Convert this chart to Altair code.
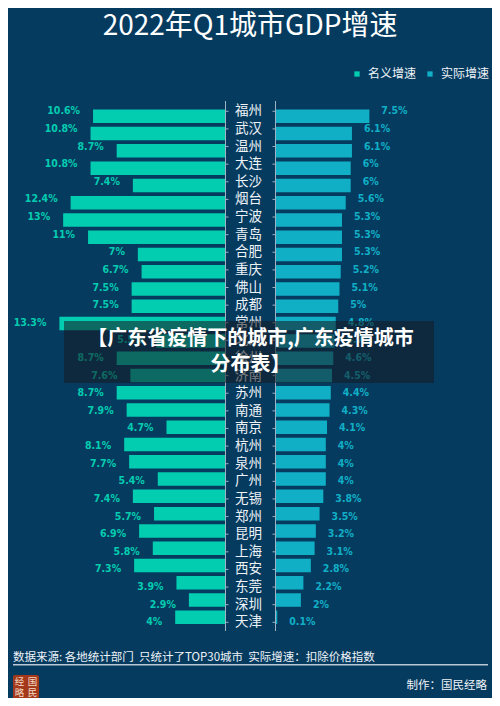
import altair as alt
import pandas as pd

# ---------------- data ----------------
cities = ["福州", "武汉", "温州", "大连", "长沙", "烟台", "宁波", "青岛", "合肥", "重庆",
          "佛山", "成都", "常州", "北京", "徐州", "济南", "苏州", "南通", "南京", "杭州",
          "泉州", "广州", "无锡", "郑州", "昆明", "上海", "西安", "东莞", "深圳", "天津"]
nominal = [10.6, 10.8, 8.7, 10.8, 7.4, 12.4, 13, 11, 7, 6.7,
           7.5, 7.5, 13.3, 5.5, 8.7, 7.6, 8.7, 7.9, 4.7, 8.1,
           7.7, 5.4, 7.4, 5.7, 6.9, 5.8, 7.3, 3.9, 2.9, 4]
real = [7.5, 6.1, 6.1, 6, 6, 5.6, 5.3, 5.3, 5.3, 5.2,
        5.1, 5, 4.8, 4.7, 4.6, 4.5, 4.4, 4.3, 4.1, 4,
        4, 4, 3.8, 3.5, 3.2, 3.1, 2.8, 2.2, 2, 0.1]
series_names = ["名义增速", "实际增速"]
title_text = ["2022年Q1城市GDP增速"]
footnote_text = ["数据来源: 各地统计部门\u00a0\u00a0只统计了TOP30城市\u00a0\u00a0实际增速：扣除价格指数"]
credit_text = ["制作：国民经略"]
logo_chars = ["经", "国", "略", "民"]
overlay_lines = ["【广东省疫情下的城市,广东疫情城市", "分布表】"]

# ---------------- styles ----------------
BG = "#063b60"
C_NOM = "#02cdb1"
C_REAL = "#10afc6"
WHITE = "#eef3f7"
FONT = "Noto Sans CJK SC"
NUMFONT = "DejaVu Sans Condensed"
W, H = 484, 690

df = pd.DataFrame({"city": cities, "nom": nominal, "real": real})
df["idx"] = range(len(cities))

yscale = alt.Scale(domain=[0, len(cities) - 1], range=[103.3, 614.3])
Y = alt.Y("idx:Q", scale=yscale, axis=None)
xl = alt.Scale(domain=[0, 17.43], range=[217, 0])
xr = alt.Scale(domain=[0, 17.35], range=[268, 484])
pix = alt.Scale(domain=[0, H], range=[0, H])
pixx = alt.Scale(domain=[0, W], range=[0, W])
color = alt.Color(
    "series:N",
    scale=alt.Scale(domain=series_names, range=[C_NOM, C_REAL]),
    legend=alt.Legend(
        orient="none", legendX=343, legendY=60, direction="horizontal", title=None,
        symbolType="square", symbolSize=28, symbolStrokeWidth=0, labelFontSize=12,
        labelFont=FONT, labelColor=WHITE, columnPadding=7, labelOffset=5, padding=0,
    ),
)

base = alt.Chart(df)

left_bars = base.transform_calculate(series="'名义增速'").mark_bar(
    orient="horizontal", height=13.5
).encode(
    x=alt.X("nom:Q", scale=xl, axis=None), x2=alt.datum(0), y=Y, color=color
)
left_text = base.transform_calculate(lab="datum.nom + '%'").mark_text(
    align="right", baseline="middle", dx=-13, font=NUMFONT, fontWeight="bold",
    fontSize=10.5, color=C_NOM
).encode(x=alt.X("nom:Q", scale=xl, axis=None), y=Y, text="lab:N")

right_bars = base.transform_calculate(series="'实际增速'").mark_bar(
    orient="horizontal", height=13.5
).encode(
    x=alt.X("real:Q", scale=xr, axis=None), x2=alt.datum(0), y=Y, color=color
)
right_text = base.transform_calculate(lab="datum.real + '%'").mark_text(
    align="left", baseline="middle", dx=12, font=NUMFONT, fontWeight="bold",
    fontSize=10.5, color=C_REAL
).encode(x=alt.X("real:Q", scale=xr, axis=None), y=Y, text="lab:N")

city_text = base.mark_text(
    align="center", baseline="middle", font=FONT, fontSize=13.5, color=WHITE
).encode(x=alt.value(240.5), y=Y, text="city:N")

axis_l = base.mark_rule(color="#9db2c2", strokeWidth=1).encode(
    x=alt.value(217.5), y=alt.value(93.7), y2=alt.value(622.5))
axis_r = base.mark_rule(color="#9db2c2", strokeWidth=1).encode(
    x=alt.value(267.5), y=alt.value(93.7), y2=alt.value(622.5))
ticks_l = base.mark_rule(color="#9db2c2", strokeWidth=1).encode(
    x=alt.value(217.5), x2=alt.value(220.5), y=Y)
ticks_r = base.mark_rule(color="#9db2c2", strokeWidth=1).encode(
    x=alt.value(264.5), x2=alt.value(267.5), y=Y)

title = alt.Chart(pd.DataFrame({"t": title_text})).mark_text(
    align="center", baseline="middle", font=FONT, fontSize=28, color="#ffffff"
).encode(x=alt.value(242), y=alt.value(19), text="t:N")

foot = alt.Chart(pd.DataFrame({"t": footnote_text})).mark_text(
    align="left", baseline="middle", font=FONT, fontSize=11.5, color=WHITE
).encode(x=alt.value(5), y=alt.value(650), text="t:N")
foot_line = alt.Chart(pd.DataFrame({"t": footnote_text})).mark_rule(
    color="#b9c8d4", strokeWidth=1.5
).encode(x=alt.value(5), x2=alt.value(480), y=alt.value(656.7))
credit = alt.Chart(pd.DataFrame({"t": credit_text})).mark_text(
    align="right", baseline="middle", font=FONT, fontSize=11.5, color=WHITE
).encode(x=alt.value(479), y=alt.value(678), text="t:N")

logo_box = alt.Chart(pd.DataFrame({"t": ["logo"]})).mark_rect(
    color="#a3381b", cornerRadius=2
).encode(x=alt.value(5), x2=alt.value(31), y=alt.value(667), y2=alt.value(691))
logo_df = pd.DataFrame({
    "c": logo_chars,
    "px": [11.5, 24.5, 11.5, 24.5],
    "py": [673.5, 673.5, 684.5, 684.5],
})
logo_txt = alt.Chart(logo_df).mark_text(
    align="center", baseline="middle", font=FONT, fontSize=9.5, color="#f3dcc6"
).encode(
    x=alt.X("px:Q", scale=pixx, axis=None),
    y=alt.Y("py:Q", scale=pix, axis=None),
    text="c:N",
)

overlay_box = alt.Chart(pd.DataFrame({"t": ["box"]})).mark_rect(
    color="#151a20", opacity=0.55
).encode(x=alt.value(56), x2=alt.value(426), y=alt.value(313), y2=alt.value(375))
ov_df = pd.DataFrame({"t": overlay_lines, "py": [331, 357]})
overlay_txt = alt.Chart(ov_df).mark_text(
    align="center", baseline="middle", font=FONT, fontSize=20, fontWeight="bold",
    color="#ffffff"
).encode(
    x=alt.value(242.5),
    y=alt.Y("py:Q", scale=pix, axis=None),
    text="t:N",
)

chart = alt.layer(
    title, axis_l, axis_r, ticks_l, ticks_r,
    left_bars, right_bars, left_text, right_text, city_text,
    foot, foot_line, credit, logo_box, logo_txt,
    overlay_box, overlay_txt,
).resolve_scale(x="independent", y="independent").properties(
    width=W, height=H, background=BG, padding=0, autosize="none"
).configure_view(stroke=None)

chart.save("out.html", embed_options={"renderer": "svg", "actions": False})
